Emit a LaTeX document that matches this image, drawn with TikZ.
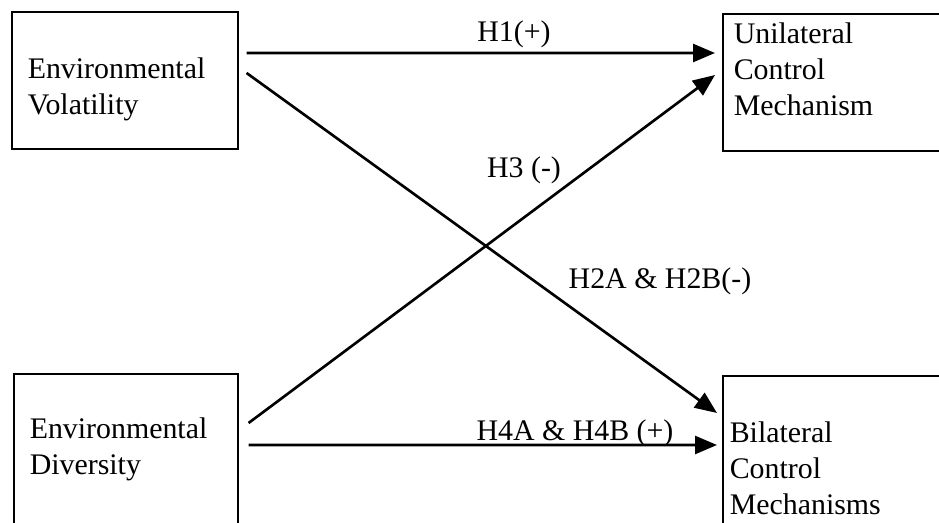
\documentclass[tikz,border=0pt]{standalone}
\usepackage{fontspec}
\setmainfont{Liberation Serif}
\usetikzlibrary{arrows.meta}
\begin{document}
\begin{tikzpicture}[
  box/.style={draw, line width=0.9pt, anchor=north west, align=left, inner ysep=0pt, font=\fontsize{17}{20.5}\selectfont},
  link/.style={line width=1.5pt, -{Triangle[length=4.4mm,width=3.6mm]}},
  hyp/.style={inner sep=0pt, font=\fontsize{17}{20.5}\selectfont}]
\useasboundingbox (0,0) rectangle (18.78,10.44);

\node[box, inner xsep=0.32cm, text width=3.88cm, text height=1.34cm, text depth=1.40cm] (vol) at (0.22,10.22) {Environmental\\Volatility};
\node[box, inner xsep=0.22cm, text width=4.26cm, text height=0.6cm, text depth=2.14cm] (uni) at (14.44,10.18) {Unilateral\\Control\\Mechanism};
\node[box, inner xsep=0.32cm, text width=3.84cm, text height=1.3cm, text depth=3.4cm] (div) at (0.26,2.98) {Environmental\\Diversity};
\node[box, inner xsep=0.14cm, text width=4.42cm, text height=1.34cm, text depth=3.4cm] (bil) at (14.44,2.94) {Bilateral\\Control\\Mechanisms};

\node[hyp] (h1) at (10.28,9.76) {H1(+)};
\node[hyp] (h3) at (10.48,7.04) {H3 (-)};
\node[hyp] (h2) at (13.2,4.82) {H2A \& H2B(-)};
\node[hyp] (h4) at (11.5,1.77) {H4A \& H4B (+)};

\draw[link] ([xshift=0.16cm,yshift=-0.84cm]vol.north east) -- ([xshift=-0.14cm,yshift=-0.8cm]uni.north west);
\draw[link] ([xshift=0.16cm,yshift=-1.24cm]vol.north east) -- ([xshift=-0.1cm,yshift=-0.76cm]bil.north west);
\draw[link] ([xshift=0.2cm,yshift=-1.0cm]div.north east) -- ([xshift=-0.14cm,yshift=-1.24cm]uni.north west);
\draw[link] ([xshift=0.2cm,yshift=-1.44cm]div.north east) -- ([xshift=-0.1cm,yshift=-1.4cm]bil.north west);
\end{tikzpicture}
\end{document}
